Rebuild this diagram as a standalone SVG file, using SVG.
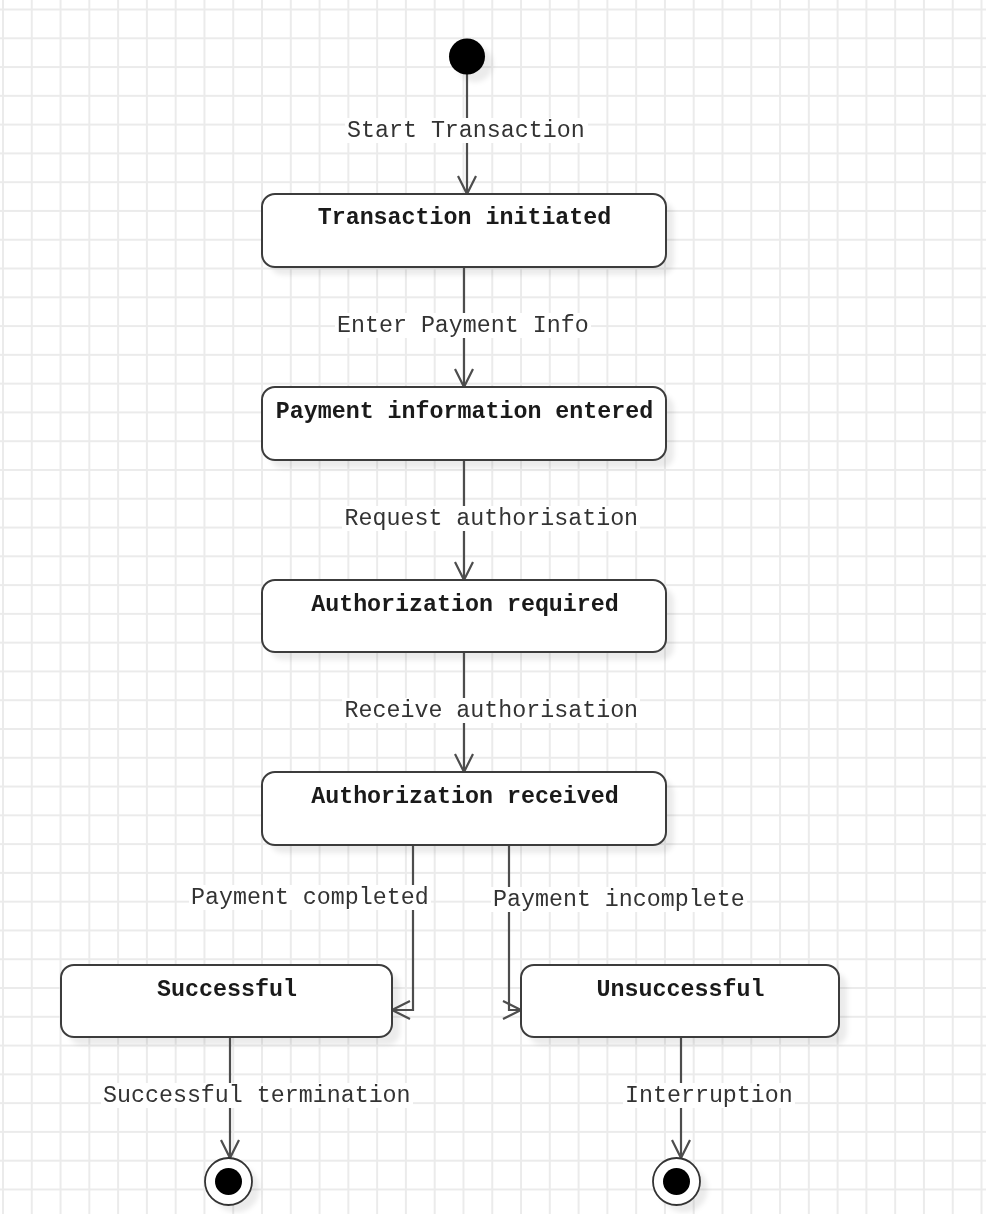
<svg xmlns="http://www.w3.org/2000/svg" width="986" height="1214" viewBox="0 0 986 1214">
<style>
.node{fill:#ffffff;stroke:#3c3c3c;stroke-width:2}
.title{font-family:"Liberation Mono",monospace;font-size:23.3px;font-weight:bold;fill:#1a1a1a;text-anchor:middle}
.lbl{font-family:"Liberation Mono",monospace;font-size:23.3px;fill:#333333}
.lblbg{fill:#ffffff}
.edge{fill:none;stroke:#4d4d4d;stroke-width:2.2}
.shadow{fill:#000000;opacity:0.08}
</style>
<defs>
<pattern id="grid" patternUnits="userSpaceOnUse" x="2" y="8.5" width="28.78" height="28.78">
<rect x="0" y="0" width="2" height="28.78" fill="#ebebeb"/>
<rect x="0" y="0" width="28.78" height="2" fill="#ebebeb"/>
</pattern>
<filter id="blur" x="-10%" y="-10%" width="130%" height="130%">
<feGaussianBlur stdDeviation="2.5"/>
</filter>
<marker id="open" viewBox="0 0 22 22" markerUnits="userSpaceOnUse" markerWidth="22" markerHeight="22" refX="19" refY="10" orient="auto">
<path d="M1,1 L19,10 L1,19" fill="none" stroke="#4d4d4d" stroke-width="2.2"/>
</marker>
</defs>
<rect x="0" y="0" width="986" height="1214" fill="#ffffff"/>
<rect x="0" y="0" width="986" height="1214" fill="url(#grid)"/>

<g id="shadows" filter="url(#blur)">
<circle class="shadow" cx="475" cy="64" r="18"/>
<rect class="shadow" x="270" y="202" width="404" height="73" rx="13"/>
<rect class="shadow" x="270" y="395" width="404" height="73" rx="13"/>
<rect class="shadow" x="270" y="588" width="404" height="72" rx="13"/>
<rect class="shadow" x="270" y="780" width="404" height="73" rx="13"/>
<rect class="shadow" x="69" y="973" width="331" height="72" rx="13"/>
<rect class="shadow" x="529" y="973" width="318" height="72" rx="13"/>
<circle class="shadow" cx="236" cy="1189" r="23.5"/>
<circle class="shadow" cx="684" cy="1189" r="23.5"/>
</g>

<g id="connectors">
<path class="edge" d="M467,74 L467,194" marker-end="url(#open)"/>
<path class="edge" d="M464,267 L464,387" marker-end="url(#open)"/>
<path class="edge" d="M464,460 L464,580" marker-end="url(#open)"/>
<path class="edge" d="M464,652 L464,772" marker-end="url(#open)"/>
<path class="edge" d="M413,845 L413,1010 L392,1010" marker-end="url(#open)"/>
<path class="edge" d="M509,845 L509,1010 L521,1010" marker-end="url(#open)"/>
<path class="edge" d="M230,1037 L230,1158" marker-end="url(#open)"/>
<path class="edge" d="M681,1037 L681,1158" marker-end="url(#open)"/>
<rect class="lblbg" x="345" y="118" width="243" height="25"/>
<text class="lbl" x="347" y="137">Start Transaction</text>
<rect class="lblbg" x="335" y="313" width="256" height="25"/>
<text class="lbl" x="337" y="332">Enter Payment Info</text>
<rect class="lblbg" x="342" y="506" width="298" height="25"/>
<text class="lbl" x="344.5" y="525">Request authorisation</text>
<rect class="lblbg" x="342" y="698" width="298" height="25"/>
<text class="lbl" x="344.5" y="717">Receive authorisation</text>
<rect class="lblbg" x="189" y="885" width="242" height="25"/>
<text class="lbl" x="191" y="904">Payment completed</text>
<rect class="lblbg" x="491" y="887" width="256" height="25"/>
<text class="lbl" x="493" y="906">Payment incomplete</text>
<rect class="lblbg" x="101" y="1083" width="312" height="25"/>
<text class="lbl" x="103" y="1102">Successful termination</text>
<rect class="lblbg" x="623" y="1083" width="172" height="25"/>
<text class="lbl" x="625" y="1102">Interruption</text>
</g>

<g id="start">
<circle cx="467" cy="56.5" r="18" fill="#000000"/>
</g>
<g id="transaction-initiated">
<rect class="node" x="262" y="194" width="404" height="73" rx="13"/>
<text class="title" x="464.5" y="224">Transaction initiated</text>
</g>
<g id="payment-information-entered">
<rect class="node" x="262" y="387" width="404" height="73" rx="13"/>
<text class="title" x="464.5" y="418">Payment information entered</text>
</g>
<g id="authorization-required">
<rect class="node" x="262" y="580" width="404" height="72" rx="13"/>
<text class="title" x="465" y="611">Authorization required</text>
</g>
<g id="authorization-received">
<rect class="node" x="262" y="772" width="404" height="73" rx="13"/>
<text class="title" x="465" y="803">Authorization received</text>
</g>
<g id="successful">
<rect class="node" x="61" y="965" width="331" height="72" rx="13"/>
<text class="title" x="227" y="996">Successful</text>
</g>
<g id="unsuccessful">
<rect class="node" x="521" y="965" width="318" height="72" rx="13"/>
<text class="title" x="680.5" y="996">Unsuccessful</text>
</g>
<g id="end-success">
<circle cx="228.5" cy="1181.5" r="23.5" fill="#ffffff" stroke="#333333" stroke-width="1.8"/>
<circle cx="228.5" cy="1181.5" r="13.5" fill="#000000"/>
</g>
<g id="end-failure">
<circle cx="676.5" cy="1181.5" r="23.5" fill="#ffffff" stroke="#333333" stroke-width="1.8"/>
<circle cx="676.5" cy="1181.5" r="13.5" fill="#000000"/>
</g>
</svg>
